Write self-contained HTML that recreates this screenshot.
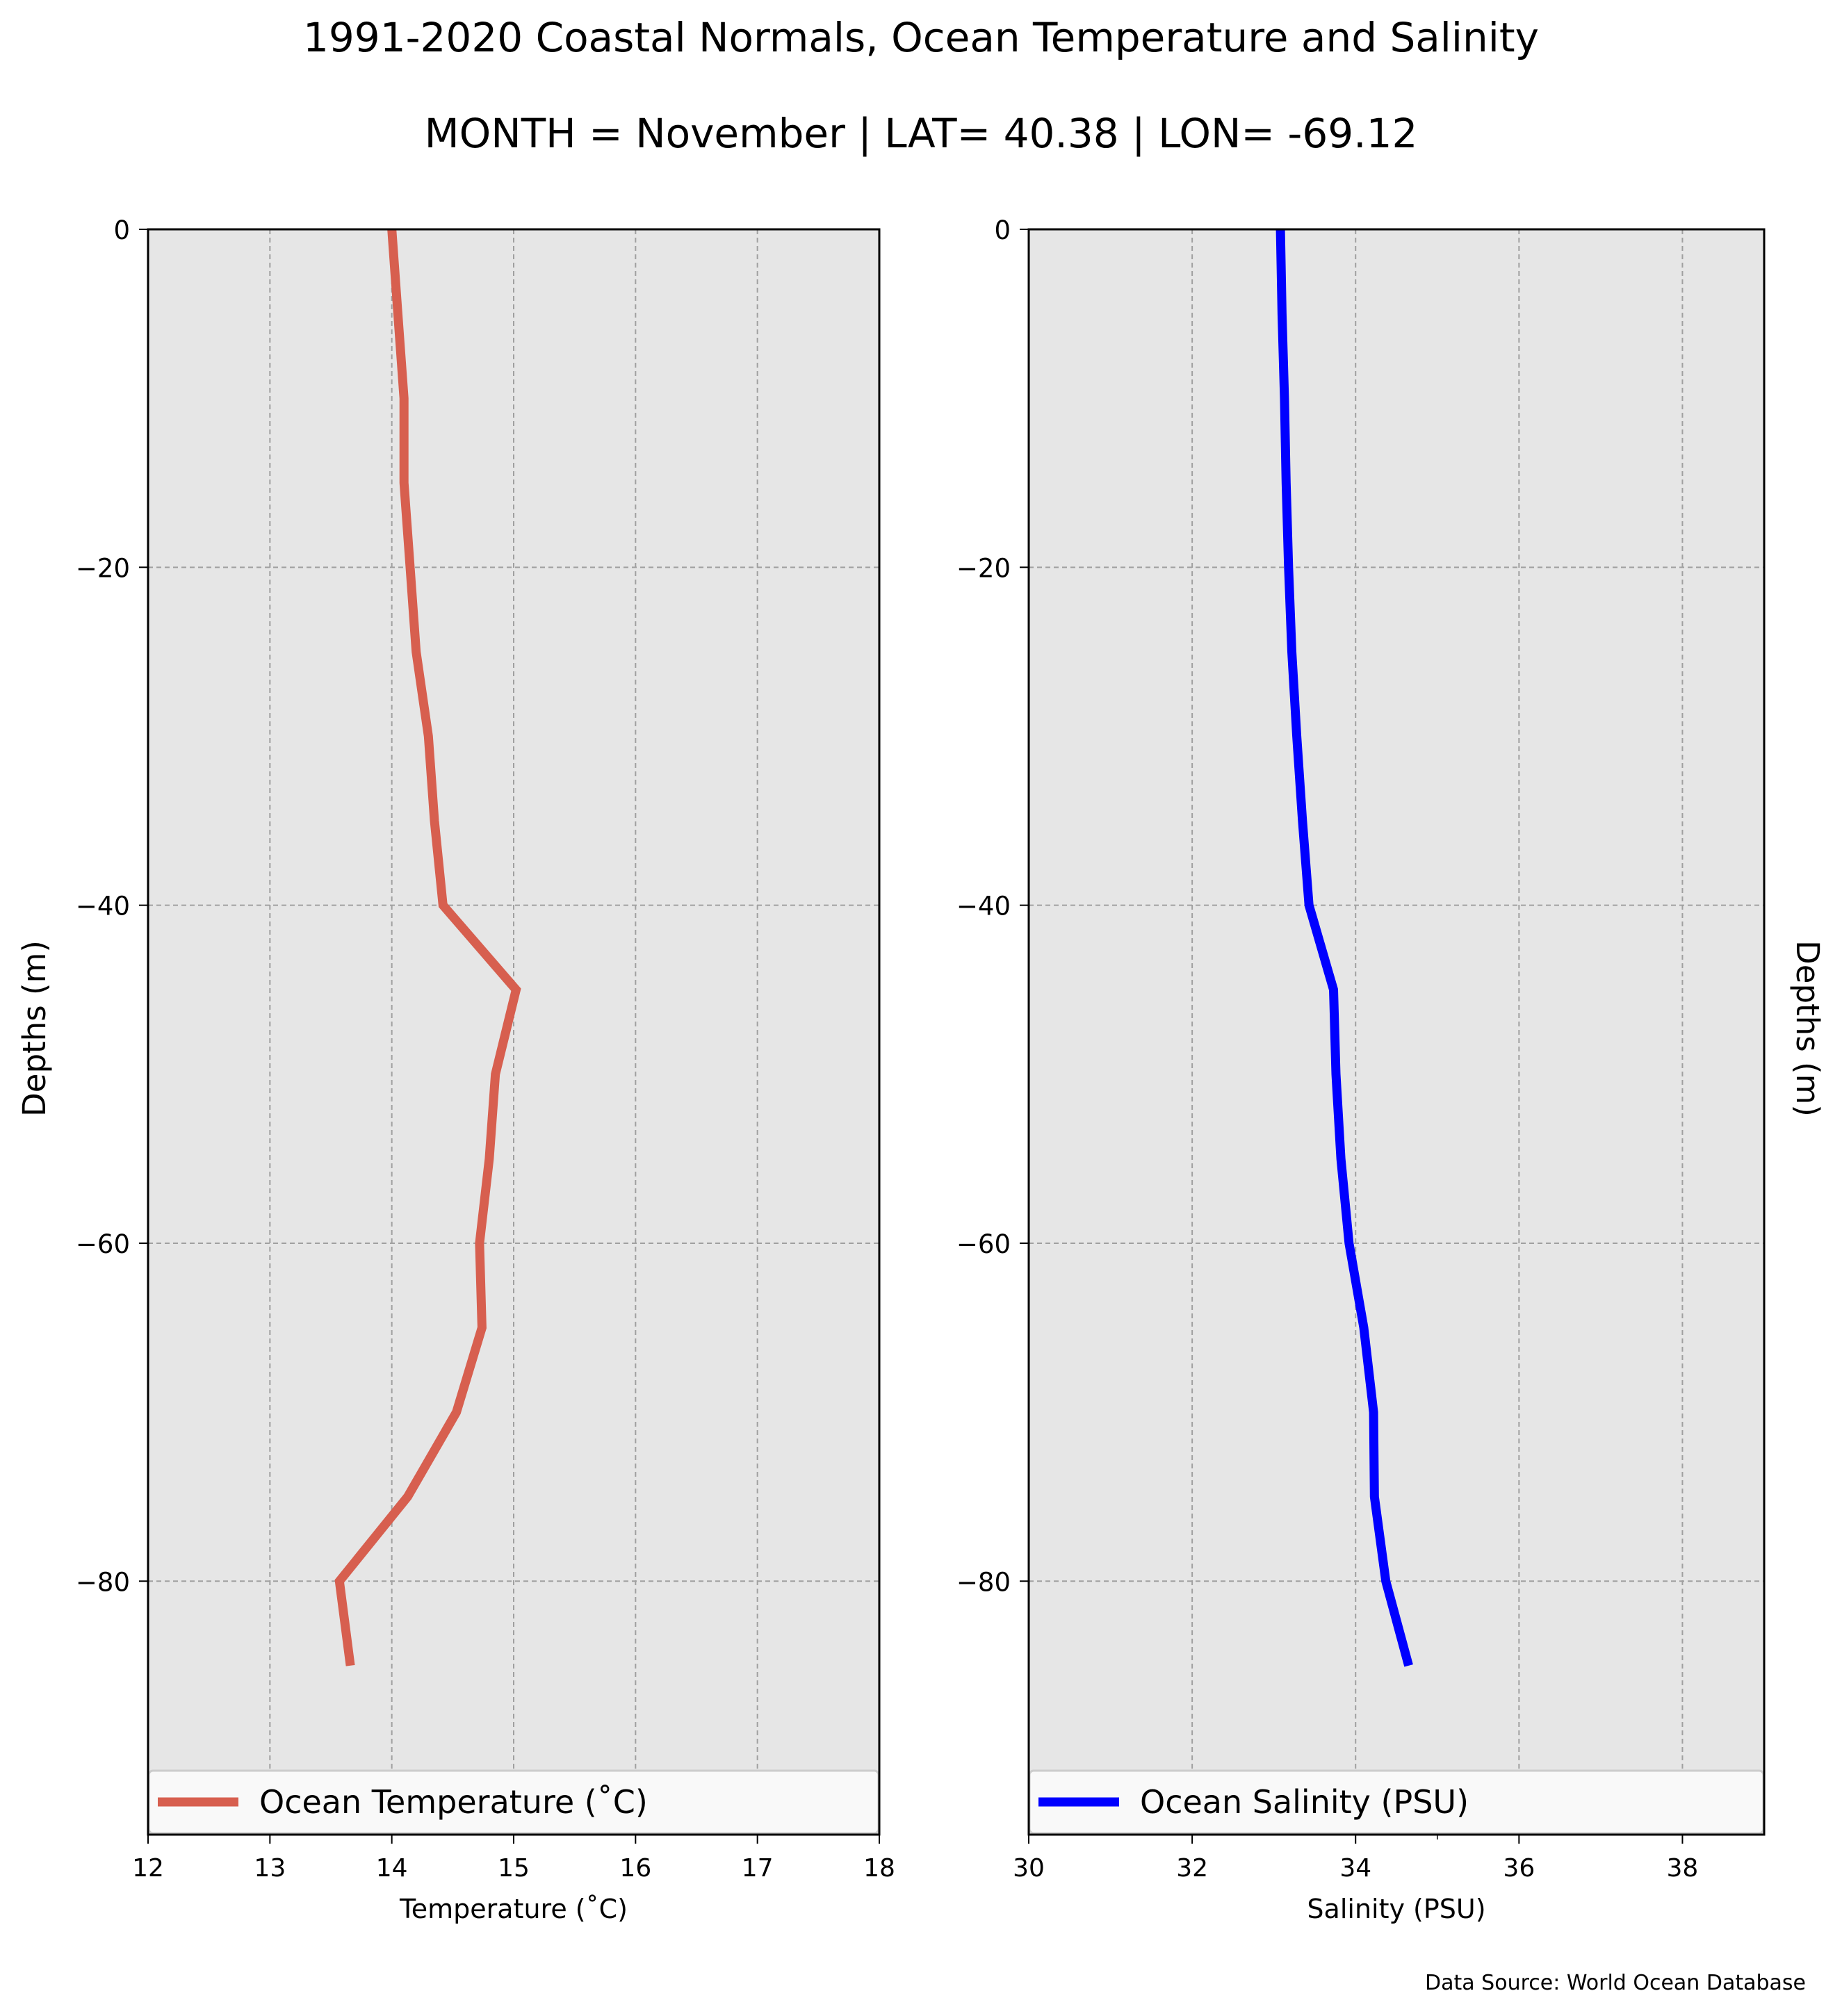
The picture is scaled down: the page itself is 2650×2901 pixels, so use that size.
<!DOCTYPE html>
<html><head><meta charset="utf-8"><style>body{margin:0;background:#fff}svg{display:block}text{font-family:"DejaVu Sans","Liberation Sans",sans-serif}</style></head>
<body>
<svg id="chart" width="2650" height="2901" xmlns="http://www.w3.org/2000/svg">
<text x="1325" y="74" text-anchor="middle" font-size="58">1991-2020 Coastal Normals, Ocean Temperature and Salinity</text>
<text x="1325" y="212" text-anchor="middle" font-size="58">MONTH = November | LAT= 40.38 | LON= -69.12</text>
<text x="2598" y="2863" text-anchor="end" font-size="30">Data Source: World Ocean Database</text>
<g id="g"></g>
</svg>
<script>
const depths = [0,-5,-10,-15,-20,-25,-30,-35,-40,-45,-50,-55,-60,-65,-70,-75,-80,-85];
const temperature = [14.0,14.05,14.1,14.1,14.15,14.2,14.3,14.35,14.42,15.02,14.85,14.8,14.72,14.74,14.53,14.13,13.57,13.66];
const salinity = [33.08,33.1,33.13,33.15,33.18,33.22,33.28,33.35,33.43,33.73,33.76,33.82,33.92,34.1,34.22,34.23,34.37,34.65];
const yTicks = [0,-20,-40,-60,-80];
const tempTicks = [12,13,14,15,16,17,18];
const salTicks = [30,32,34,36,38];

const NS="http://www.w3.org/2000/svg";
const g=document.getElementById('g');
function mk(tag,attrs,parent){const e=document.createElementNS(NS,tag);for(const k in attrs)e.setAttribute(k,attrs[k]);(parent||g).appendChild(e);return e;}
const Y0=330,Y1=2640,D0=0,D1=-95;
function ys(d){return Y0+(d-D0)/(D1-D0)*(Y1-Y0);}

function panel(cfg){
  const {x0,x1,xmin,xmax,ticks,vals,color,legend,xlabel,name,minor}=cfg;
  const xs=v=>x0+(v-xmin)/(xmax-xmin)*(x1-x0);
  const bg=mk('rect',{x:x0,y:Y0,width:x1-x0,height:Y1-Y0,fill:'#e6e6e6'});
  
  
  ticks.forEach(t=>{
    const gl=mk('line',{x1:xs(t),x2:xs(t),y1:Y0,y2:Y1,stroke:'#a0a0a0','stroke-width':2,'stroke-dasharray':'7,5'});
    
    
    const tk=mk('line',{x1:xs(t),x2:xs(t),y1:Y1,y2:Y1+13,stroke:'#000','stroke-width':2});
    
    
    const tl=mk('text',{x:xs(t),y:Y1+60,'text-anchor':'middle','font-size':36});
    tl.textContent=t;
    
    
  });
  if(minor){const m=mk('line',{x1:xs(minor),x2:xs(minor),y1:Y1,y2:Y1+7,stroke:'#000','stroke-width':1.5});
    
    }
  yTicks.forEach(t=>{
    const gl=mk('line',{x1:x0,x2:x1,y1:ys(t),y2:ys(t),stroke:'#a0a0a0','stroke-width':2,'stroke-dasharray':'7,5'});
    
    
    const tk=mk('line',{x1:x0-13,x2:x0,y1:ys(t),y2:ys(t),stroke:'#000','stroke-width':2});
    
    
    const tl=mk('text',{x:x0-26,y:ys(t)+14,'text-anchor':'end','font-size':37});
    tl.textContent=(t<0?'\u2212'+(-t):t);
    
    
  });
  const pts=vals.map((v,i)=>xs(v).toFixed(1)+','+ys(depths[i]).toFixed(1)).join(' ');
  const ln=mk('polyline',{points:pts,fill:'none',stroke:color,'stroke-width':13,'stroke-linejoin':'miter'});
  
  
  const lg=mk('rect',{x:x0+1,y:Y1-92,width:x1-x0-2,height:90,rx:6,fill:'#f9f9f9',stroke:'#cccccc','stroke-width':3});
  
  
  const lh=mk('line',{x1:x0+14,x2:x0+130,y1:Y1-47,y2:Y1-47,stroke:color,'stroke-width':13});
  
  
  const lt=mk('text',{x:x0+160,y:Y1-31,'font-size':46});
  lt.textContent=legend;
  
  
  const fr=mk('rect',{x:x0,y:Y0,width:x1-x0,height:Y1-Y0,fill:'none',stroke:'#000','stroke-width':3});
  
  
  const xl=mk('text',{x:(x0+x1)/2,y:Y1+120,'text-anchor':'middle','font-size':38});
  xl.textContent=xlabel;
  
  
}
panel({x0:213,x1:1265,xmin:12,xmax:18,ticks:tempTicks,vals:temperature,color:'#d75f4f',legend:'Ocean Temperature (\u02DAC)',xlabel:'Temperature (\u02DAC)',name:'temperature'});
panel({x0:1480,x1:2538,xmin:30,xmax:39,ticks:salTicks,vals:salinity,color:'#0000ff',legend:'Ocean Salinity (PSU)',xlabel:'Salinity (PSU)',name:'salinity',minor:35});
const l1=mk('text',{x:0,y:0,'text-anchor':'middle','font-size':45,transform:'translate(65,1480) rotate(-90)'});
l1.textContent='Depths (m)';


const l2=mk('text',{x:0,y:0,'text-anchor':'middle','font-size':45,transform:'translate(2585,1480) rotate(90)'});
l2.textContent='Depths (m)';


</script>
</body></html>
